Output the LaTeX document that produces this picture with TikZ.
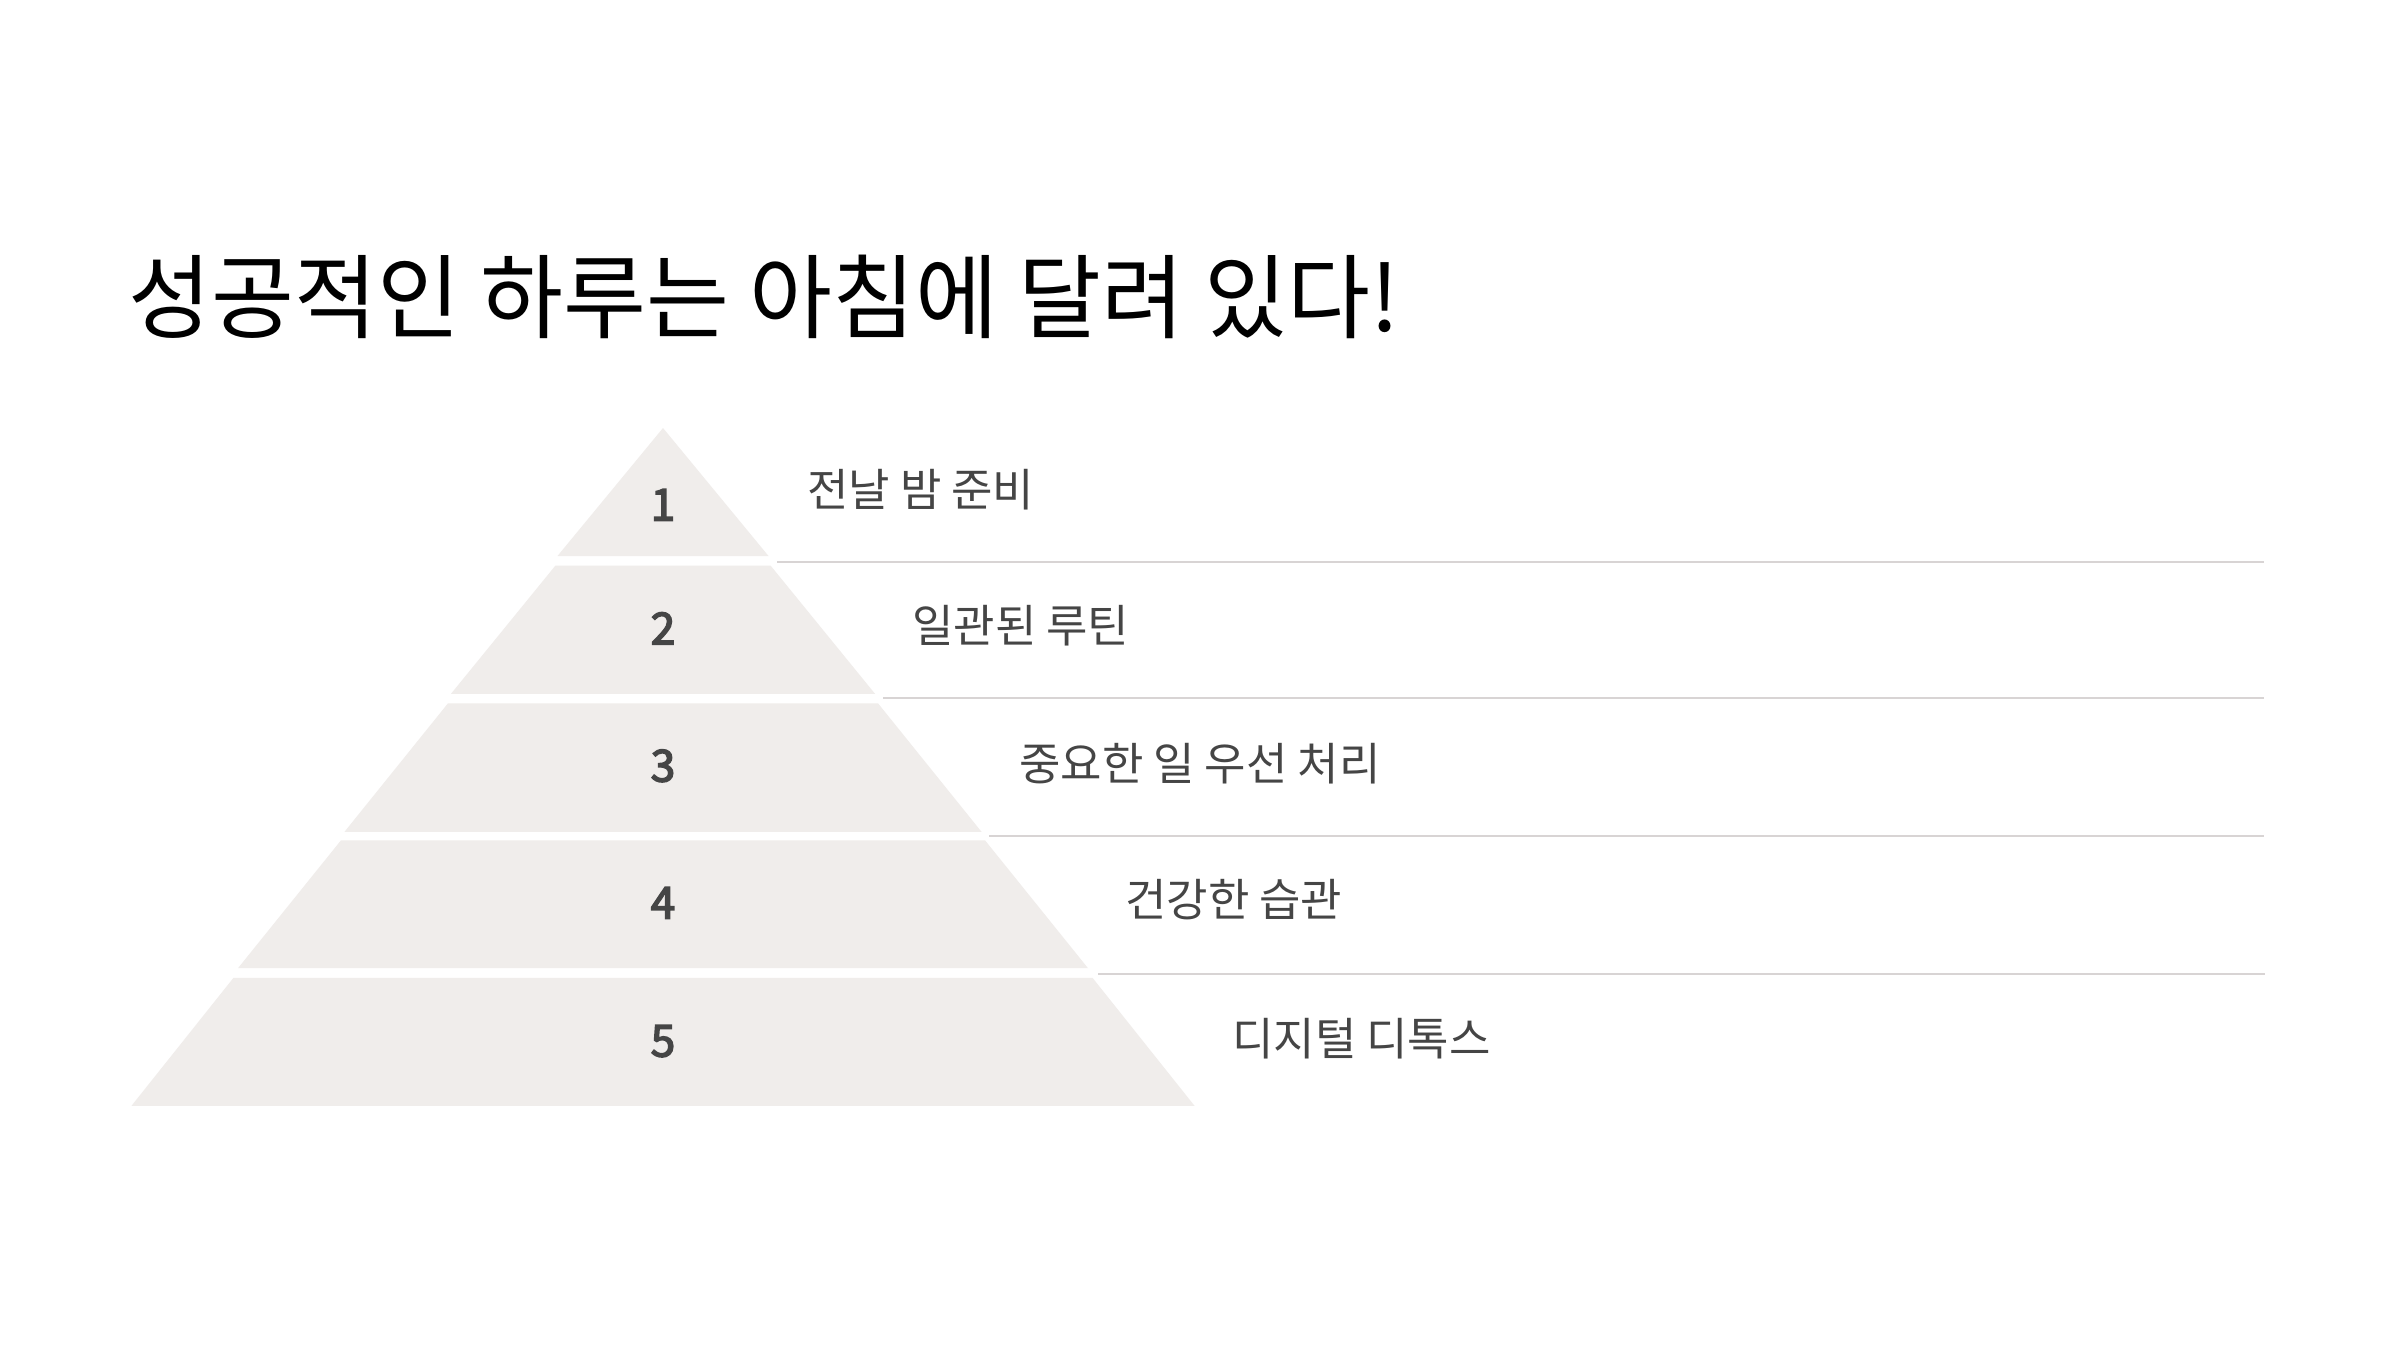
\documentclass[tikz,border=0pt]{standalone}
\usepackage{fontspec}
\setmainfont{Noto Sans CJK KR}
\newfontfamily\titlefont[FakeStretch=0.98]{Noto Sans CJK KR}
\newfontfamily\numfont[FakeBold=3.5]{Noto Sans CJK KR}
\definecolor{pyrfill}{HTML}{F0EDEB}
\definecolor{sepline}{HTML}{D8D4D4}
\definecolor{txt}{HTML}{454545}
\tikzset{
  lbl/.style={anchor=base west, inner sep=0pt, text=txt, font=\fontsize{45}{52}\selectfont},
  num/.style={anchor=base, inner sep=0pt, text=txt, font=\fontsize{44}{50}\numfont},
  sep/.style={draw=sepline, line width=2.2pt},
  band/.style={fill=pyrfill},
}
\begin{document}
\begin{tikzpicture}[x=1pt,y=-1pt]
\fill[white] (0,0) rectangle (2400,1350);
\useasboundingbox (0,0) rectangle (2400,1350);
\node[anchor=base west, inner sep=0pt, font=\fontsize{92}{100}\titlefont] (title) at (128,331) {성공적인 하루는 아침에 달려 있다!};
% pyramid bands: top y / bottom y / top half-width / bottom half-width
\foreach \ty/\by/\tw/\bw in {428/556/0/105.5, 565.5/693.8/107.5/212, 703.3/831.8/215/318.5, 840.3/968.2/322/425, 977.8/1105.8/429.5/531.5}
  \fill[band] ({663-\tw},\ty) -- ({663+\tw},\ty) -- ({663+\bw},\by) -- ({663-\bw},\by) -- cycle;
\node[num] (n1) at (663,520.5) {1};
\node[num] (n2) at (663,644.3) {2};
\node[num] (n3) at (663,781.5) {3};
\node[num] (n4) at (663,918.5) {4};
\node[num] (n5) at (663,1056.5) {5};
\node[lbl] (t1) at (807,506) {전날 밤 준비};
\node[lbl] (t2) at (912,642) {일관된 루틴};
\node[lbl] (t3) at (1019,780) {중요한 일 우선 처리};
\node[lbl] (t4) at (1125,916) {건강한 습관};
\node[lbl] (t5) at (1232,1055) {디지털 디톡스};
\draw[sep] (777,562) -- (2264,562);
\draw[sep] (883,698) -- (2264,698);
\draw[sep] (989,836) -- (2264,836);
\draw[sep] (1098,974) -- (2265,974);
\end{tikzpicture}
\end{document}
